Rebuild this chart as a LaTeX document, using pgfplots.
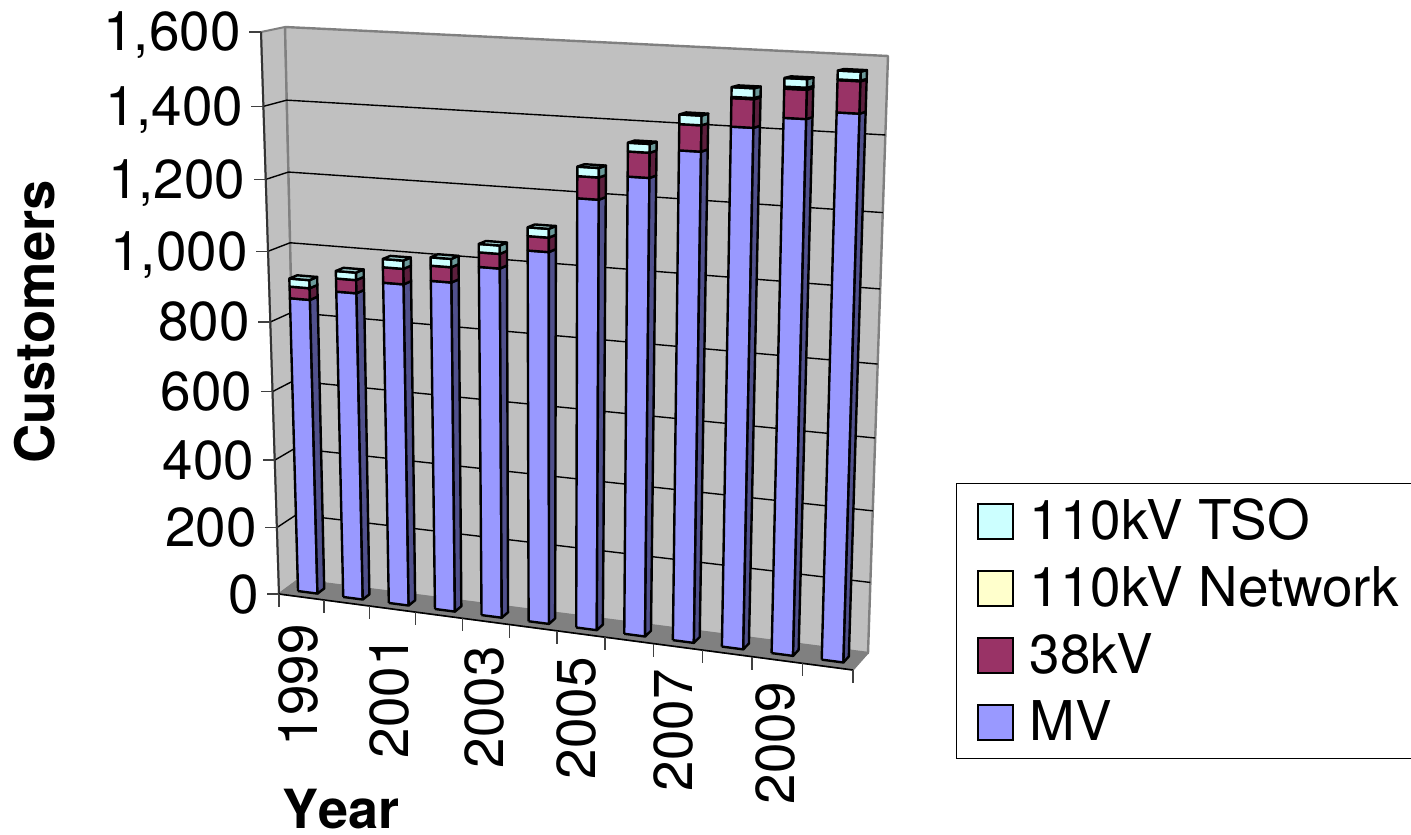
\documentclass[border=0pt]{standalone}
\usepackage{fontspec}
\setmainfont{TeX Gyre Heros}
\usepackage{pgfplots}
\usepackage{pgfplotstable}
\pgfplotsset{compat=1.18}

\definecolor{mvc}{HTML}{9999FF}
\definecolor{mvs}{HTML}{50508C}
\definecolor{kvc}{HTML}{993366}
\definecolor{kvs}{HTML}{5C1F3D}
\definecolor{netc}{HTML}{FFFFCC}
\definecolor{nets}{HTML}{808066}
\definecolor{tsoc}{HTML}{CCFFFF}
\definecolor{tsos}{HTML}{6B9999}
\definecolor{tsot}{HTML}{A0D0D0}
\definecolor{wall}{HTML}{C0C0C0}
\definecolor{floorc}{HTML}{808080}

% customers per voltage level
\pgfplotstableread{
year MV  kv  net tso
1999 862 33  0   23
2000 892 37  0   21
2001 928 43  0   23
2002 944 42  0   23
2003 993 40  0   23
2004 1048 39 0   24
2005 1198 59 0   25
2006 1264 66 0   23
2007 1341 68 0   25
2008 1410 73 3   25
2009 1440 74 5   22
2010 1461 81 2   22
}\datatable

% perspective of the 3D box: u = 0..12 (years), v = 0..1600, d = 0..1 (depth)
\newcommand{\addpt}[3]{%
  \pgfmathsetmacro\tu{(#1)/12}%
  \pgfmathsetmacro\U{\tu/(\tu+1.065*(1-\tu))}%
  \pgfmathsetmacro\tv{(#2)/1600}%
  \pgfmathsetmacro\V{\tv/(\tv+1.066*(1-\tv))}%
  \pgfmathsetmacro\D{#3}%
  \pgfmathsetmacro\fx{(1-\V)*((1-\U)*279+\U*853)+\V*((1-\U)*261+\U*871)}%
  \pgfmathsetmacro\fy{(1-\V)*((1-\U)*594+\U*670)+\V*((1-\U)*32+\U*60)}%
  \pgfmathsetmacro\bx{(1-\V)*((1-\U)*298+\U*868)+\V*((1-\U)*285+\U*888)}%
  \pgfmathsetmacro\by{(1-\V)*((1-\U)*580+\U*653)+\V*((1-\U)*27+\U*56)}%
  \pgfmathsetmacro\px{(1-\D)*\fx+\D*\bx}%
  \pgfmathsetmacro\py{(1-\D)*\fy+\D*\by}%
  \xdef\pts{\pts (\px,\py)}%
}
\newcommand{\face}[2]{% style, points
  \gdef\pts{}#2%
  \edef\tmp{\noexpand\addplot[forget plot,line join=round,#1] coordinates {\pts};}\tmp
}
% one segment of a bar: left, right, low, high, front colour, side colour
\newcommand{\seg}[6]{%
  \face{fill=#5,draw=black,line width=1.2pt}{\addpt{#1}{#3}{.33}\addpt{#2}{#3}{.33}\addpt{#2}{#4}{.33}\addpt{#1}{#4}{.33}\addpt{#1}{#3}{.33}}%
  \face{fill=#6,draw=black,line width=1.2pt}{\addpt{#2}{#3}{.33}\addpt{#2}{#3}{.69}\addpt{#2}{#4}{.69}\addpt{#2}{#4}{.33}\addpt{#2}{#3}{.33}}%
}

\begin{document}
\begin{tikzpicture}
\path[use as bounding box] (0,0) rectangle (705.5pt,417pt);
\begin{axis}[
  scale only axis,
  width=705.5pt,
  height=417pt,
  xmin=0,xmax=1411,
  ymin=0,ymax=834,
  y dir=reverse,
  hide axis,
  clip=false,
  legend image code/.code={%
    \draw[#1,draw=black,line width=1pt] (0pt,-9.5pt) rectangle (17.5pt,8pt);
    \path[draw=none,fill=none] (0pt,0pt) -- (26pt,0pt);},
  legend cell align=left,
  legend style={
    at={(axis cs:956,483)},anchor=north west,
    draw=black,line width=.7pt,
    font=\fontsize{27.4}{32}\selectfont,
    inner xsep=10pt,inner ysep=8.5pt,
    row sep=13.75pt,
    nodes={inner sep=0pt,text height=19.5pt,text depth=0pt},
  },
]
\addlegendimage{fill=tsoc}\addlegendentry{110kV TSO}
\addlegendimage{fill=netc}\addlegendentry{110kV Network}
\addlegendimage{fill=kvc}\addlegendentry{38kV}
\addlegendimage{fill=mvc}\addlegendentry{MV}

% walls and floor
\face{fill=wall,draw=floorc,line width=1pt}{\addpt{0}{0}{0}\addpt{0}{1600}{0}\addpt{0}{1600}{1}\addpt{0}{0}{1}\addpt{0}{0}{0}}
\face{fill=wall,draw=floorc,line width=1.2pt}{\addpt{0}{0}{1}\addpt{0}{1600}{1}\addpt{12}{1600}{1}\addpt{12}{0}{1}\addpt{0}{0}{1}}
\face{fill=floorc,draw=floorc,line width=.7pt}{\addpt{0}{0}{0}\addpt{12}{0}{0}\addpt{12}{0}{1}\addpt{0}{0}{1}\addpt{0}{0}{0}}

% gridlines, front edges, ticks and their labels
\pgfplotsforeachungrouped \v in {200,400,...,1400}{
  \face{draw=black,line width=.7pt}{\addpt{0}{\v}{0}\addpt{0}{\v}{1}\addpt{12}{\v}{1}}
}
\face{draw=black!80,line width=1pt}{\addpt{0}{0}{0}\addpt{0}{1600}{0}}
\face{draw=black,line width=.8pt}{\addpt{0}{0}{0}\addpt{12}{0}{0}}
\foreach \v/\lab in {0/0,200/200,400/400,600/600,800/800,1000/{1,000},1200/{1,200},1400/{1,400},1600/{1,600}}{
  \gdef\pts{}\addpt{0}{\v}{0}%
  \pgfmathsetmacro\tx{\px-12}\pgfmathsetmacro\lx{\px-20}\pgfmathsetmacro\ly{\py+19}%
  \edef\tmp{\noexpand\addplot[forget plot,draw=black!75,line width=.7pt] coordinates {(\px,\py) (\tx,\py)};
    \noexpand\node[anchor=base east,inner sep=0pt,font=\noexpand\fontsize{27.4}{32}\noexpand\selectfont] at (axis cs:\lx,\ly) {\lab};}\tmp
}
\pgfplotsforeachungrouped \u in {0,...,12}{
  \gdef\pts{}\addpt{\u}{0}{0}%
  \pgfmathsetmacro\ty{\py+13}%
  \edef\tmp{\noexpand\addplot[forget plot,draw=black!75,line width=.7pt] coordinates {(\px,\py) (\px,\ty)};}\tmp
}

% the stacked bars
\pgfplotsforeachungrouped \i in {0,...,11}{
  \pgfplotstablegetelem{\i}{MV}\of\datatable \pgfmathsetmacro\ca{\pgfplotsretval}%
  \pgfplotstablegetelem{\i}{kv}\of\datatable \pgfmathsetmacro\cb{\ca+\pgfplotsretval}%
  \pgfplotstablegetelem{\i}{net}\of\datatable \pgfmathsetmacro\cc{\cb+\pgfplotsretval}%
  \let\netv\pgfplotsretval
  \pgfplotstablegetelem{\i}{tso}\of\datatable \pgfmathsetmacro\cd{\cc+\pgfplotsretval}%
  \pgfmathsetmacro\ul{\i+.285}\pgfmathsetmacro\ur{\i+.715}%
  \seg{\ul}{\ur}{0}{\ca}{mvc}{mvs}%
  \seg{\ul}{\ur}{\ca}{\cb}{kvc}{kvs}%
  \ifdim\netv pt>0pt \seg{\ul}{\ur}{\cb}{\cc}{netc}{nets}\fi
  \seg{\ul}{\ur}{\cc}{\cd}{tsoc}{tsos}%
  \face{fill=tsot,draw=black,line width=1.2pt}{\addpt{\ul}{\cd}{.33}\addpt{\ur}{\cd}{.33}\addpt{\ur}{\cd}{.69}\addpt{\ul}{\cd}{.69}\addpt{\ul}{\cd}{.33}}%
}

% year labels, every second one
\foreach \x/\y/\lab in {317/624/1999,408/636/2001,503/646/2003,595/657/2005,692/669/2007,794/682/2009}{
  \edef\tmp{\noexpand\node[rotate=90,anchor=base east,inner sep=0pt,font=\noexpand\fontsize{27.4}{32}\noexpand\selectfont] at (axis cs:\x,\y) {\lab};}\tmp
}
\node[rotate=90,anchor=base,inner sep=0pt,font=\fontsize{27.2}{32}\selectfont\bfseries] at (axis cs:54,322) {Customers};
\node[anchor=base,inner sep=0pt,font=\fontsize{27}{32}\selectfont\bfseries\addfontfeature{Kerning=Off}] at (axis cs:341,828) {Year};
\end{axis}
\end{tikzpicture}
\end{document}
